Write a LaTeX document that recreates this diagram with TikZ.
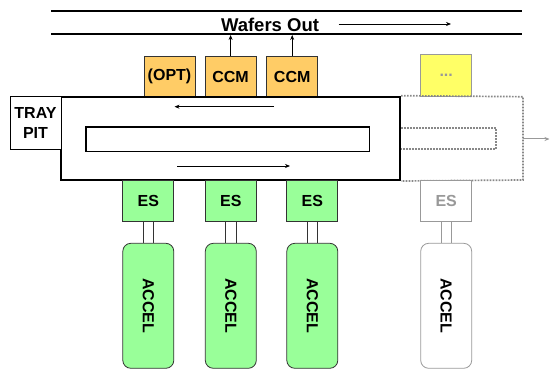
\documentclass[tikz,border=0pt]{standalone}
\usepackage{fontspec}
\setmainfont{Liberation Sans}
\usetikzlibrary{arrows.meta}
\definecolor{orangebox}{HTML}{FFCC66}
\definecolor{greenbox}{HTML}{99FF99}
\definecolor{yellowbox}{HTML}{FFFF66}
\definecolor{ghost}{HTML}{999999}
\definecolor{dotgray}{HTML}{888888}
\tikzset{
  txt/.style={font=\fontsize{16}{19}\selectfont\bfseries},
  sbox/.style={draw=black!80, line width=0.8pt, minimum width=51pt, inner sep=0pt, txt},
  ccmbox/.style={sbox, fill=orangebox, minimum height=41pt},
  esbox/.style={sbox, fill=greenbox, minimum height=41.7pt},
  accbox/.style={sbox, fill=greenbox, minimum height=125pt, rounded corners=8pt},
  link/.style={line width=0.8pt, draw=black!80},
  thinarrow/.style={line width=0.7pt, -{Stealth[length=5pt,width=4pt]}},
  dotline/.style={draw=dotgray, line width=1.7pt, dash pattern=on 1.6pt off 1.4pt},
}
\begin{document}
\begin{tikzpicture}[x=1pt, y=-1pt]
\useasboundingbox (0,0) rectangle (550,369);

% wafers out lane
\coordinate (l1a) at (51,11); \coordinate (l1b) at (522,11);
\coordinate (l2a) at (51,34); \coordinate (l2b) at (522,34);
\draw[line width=2pt] (l1a) -- (l1b);
\draw[line width=2pt] (l2a) -- (l2b);
\node[anchor=base, font=\fontsize{18.5}{22}\selectfont\bfseries, inner sep=0pt] (wo) at (270,32) {Wafers Out};
\coordinate (woa) at (338.5,24); \coordinate (wob) at (451,24);
\draw[thinarrow] (woa) -- (wob);

% top modules
\node[ccmbox] (opt)  at (169.5,76.5) {(OPT)};
\node[ccmbox] (ccm1) at (230.6,76.5) {CCM};
\node[ccmbox] (ccm2) at (292.2,76.5) {CCM};
\node[sbox, draw=ghost, fill=yellowbox, minimum height=42pt, text=ghost] (dots) at (446.2,75.5) {...};
\draw[thinarrow] (ccm1.north) -- (ccm1.north |- 0,35);
\draw[thinarrow] (ccm2.north) -- (ccm2.north |- 0,35);

% main loop
\node[draw, line width=2pt, fill=white, minimum width=339pt, minimum height=83.3pt, inner sep=0pt] (main) at (230.5,138.35) {};
\node[draw, line width=1.6pt, minimum width=283.3pt, minimum height=24.4pt, inner sep=0pt] (inner) at (227.65,139.5) {};
\node[draw, line width=0.8pt, fill=white, minimum width=51pt, minimum height=52.6pt, inner sep=0pt, align=center, font=\fontsize{16}{20}\selectfont\bfseries] (tray) at (35.5,123) {TRAY\\PIT};
\coordinate (ta) at (274,106.7); \coordinate (tb) at (174.5,106.7);
\coordinate (ba) at (177,166); \coordinate (bb) at (290,166);
\draw[thinarrow] (ta) -- (tb);
\draw[thinarrow] (ba) -- (bb);

% dotted extension
\draw[dotline] (main.north east) -- (523,96.7) -- (523,180) -- (main.south east);
\draw[dotline] (401,128.3) -- (496,128.3) -- (496,149.3) -- (401,149.3);
\coordinate (xa) at (523,139); \coordinate (xb) at (549.5,139);
\draw[thinarrow, draw=ghost, line width=1pt] (xa) -- (xb);

% lower modules
\foreach \i/\x in {1/148.3, 2/230.8, 3/312.3} {
  \node[esbox] (es\i) at (\x,200.85) {ES};
  \node[accbox] (acc\i) at (\x,305.8) {\rotatebox{-90}{ACCEL}};
  \draw[link] ([xshift=-5.3pt]es\i.south) -- ([xshift=-5.3pt]acc\i.north);
  \draw[link] ([xshift=5.3pt]es\i.south) -- ([xshift=5.3pt]acc\i.north);
}
\node[sbox, draw=ghost, fill=white, text=ghost, minimum height=41.7pt] (es4) at (446.2,200.85) {ES};
\node[sbox, draw=ghost, fill=white, minimum height=125pt, rounded corners=8pt] (acc4) at (446.2,305.8) {\rotatebox{-90}{ACCEL}};
\draw[link, draw=ghost] ([xshift=-5.3pt]es4.south) -- ([xshift=-5.3pt]acc4.north);
\draw[link, draw=ghost] ([xshift=5.3pt]es4.south) -- ([xshift=5.3pt]acc4.north);
\end{tikzpicture}
\end{document}
